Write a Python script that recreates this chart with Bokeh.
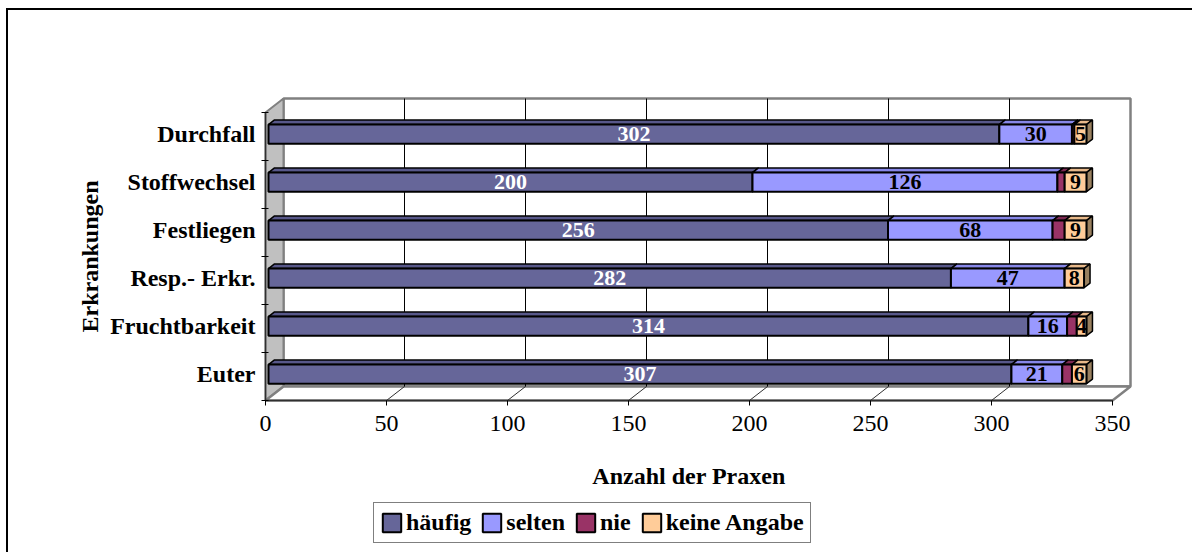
import math
from bokeh.plotting import figure
from bokeh.models import (Range1d, FixedTicker, Legend, LegendItem, Label,
                          LinearAxis, ColumnDataSource)
from bokeh.core.properties import value
from bokeh.embed import file_html
from bokeh.resources import INLINE

# ---- data -------------------------------------------------------------
categories = ["Euter", "Fruchtbarkeit", "Resp.- Erkr.", "Festliegen",
              "Stoffwechsel", "Durchfall"]
series = ["häufig", "selten", "nie", "keine Angabe"]
haeufig = [307, 314, 282, 256, 200, 302]
selten = [21, 16, 47, 68, 126, 30]
nie = [4, 4, 0, 5, 3, 1]
keine_angabe = [6, 4, 8, 9, 9, 5]
x_ticks = [0, 50, 100, 150, 200, 250, 300, 350]

# ---- styling ----------------------------------------------------------
colors = ["#666699", "#9999FF", "#993366", "#FFCC99"]
top_colors = ["#58588a", "#8787e8", "#7d2a52", "#e8b98a"]
end_color = "#99805f"
label_colors = ["white", "black", None, "black"]
FONT = "Liberation Serif"

# the chart sits inside a framed box offset from the page corner
OFF_L, OFF_T = 8, 10
W, H = 1192 - OFF_L, 552 - OFF_T
ORIGIN_X = 257              # px from the box's left edge to x = 0
FRONT_BOTTOM = 390          # px from the box's top edge to the floor front

X_MAX = x_ticks[-1]
KX = 2.42          # px per x unit
KY = 48.0          # px per category
DX = 18 / KX       # depth of the 3-D box, in data units
DY = 14 / KY
FX, FY = DX / 6, DY / 6     # bar front face sits slightly inside the box
BDX, BDY = DX / 3, DY / 3   # bar depth
HALF = 0.2                  # half bar thickness

n = len(categories)
YB = -0.5 - FY
YT = n - 0.5 - FY

x_start = -ORIGIN_X / KX
x_end = x_start + W / KX
y_end = YB + FRONT_BOTTOM / KY
y_start = y_end - H / KY

p = figure(width=W, height=H, output_backend="svg", toolbar_location=None,
           x_range=Range1d(x_start, x_end), y_range=Range1d(y_start, y_end),
           x_axis_location=None, y_axis_location=None,
           min_border=0,
           background_fill_color="white", border_fill_color="white",
           margin=(OFF_T, 0, 0, OFF_L),
           styles={"outline": "2px solid black"})
p.outline_line_color = None
p.grid.visible = False

GRAY = "#808080"

# back wall
p.quad(left=[DX], right=[X_MAX + DX], bottom=[YB + DY], top=[YT + DY],
       fill_color="white", line_color=GRAY, line_width=2.5)
# left wall
p.patch([0, 0, DX, DX], [YB, YT, YT + DY, YB + DY],
        fill_color="#c0c0c0", line_color=GRAY, line_width=2)
# floor
p.patch([0, X_MAX, X_MAX + DX, DX], [YB, YB, YB + DY, YB + DY],
        fill_color="white", line_color=GRAY, line_width=2.5)

# gridlines on the back wall and floor
inner = x_ticks[1:-1]
p.segment(x0=[t + DX for t in inner], y0=[YB + DY] * len(inner),
          x1=[t + DX for t in inner], y1=[YT + DY] * len(inner),
          line_color="black", line_width=1)
p.segment(x0=inner, y0=[YB] * len(inner),
          x1=[t + DX for t in inner], y1=[YB + DY] * len(inner),
          line_color="#303030", line_width=1)

# front edges of the box
p.segment(x0=[0, 0], y0=[YB, YB], x1=[X_MAX, 0], y1=[YB, YT],
          line_color="#303030", line_width=1.5)

# ---- stacked 3-D bars -------------------------------------------------
values = [haeufig, selten, nie, keine_angabe]
lefts = []
cum = [0] * n
for vals in values:
    lefts.append(list(cum))
    cum = [c + v for c, v in zip(cum, vals)]
totals = cum

# top faces
for k, vals in enumerate(values):
    xs, ys = [], []
    for i in range(n):
        l = lefts[k][i] + FX
        r = l + vals[i]
        t = i + HALF
        xs.append([l, r, r + BDX, l + BDX])
        ys.append([t, t, t + BDY, t + BDY])
    p.patches(xs, ys, fill_color=top_colors[k], line_color="black",
              line_width=1.5)

# end faces
ex, ey = [], []
for i in range(n):
    r = totals[i] + FX
    ex.append([r, r, r + BDX, r + BDX])
    ey.append([i - HALF, i + HALF, i + HALF + BDY, i - HALF + BDY])
p.patches(ex, ey, fill_color=end_color, line_color="black", line_width=1.5)

# front faces
front = []
for k, vals in enumerate(values):
    src = ColumnDataSource(dict(
        left=[lefts[k][i] + FX for i in range(n)],
        right=[lefts[k][i] + vals[i] + FX for i in range(n)],
        bottom=[i - HALF for i in range(n)],
        top=[i + HALF for i in range(n)]))
    r = p.quad(left="left", right="right", bottom="bottom", top="top",
               source=src, fill_color=colors[k], line_color="black",
               line_width=2)
    front.append(r)

# value labels
for k, vals in enumerate(values):
    if label_colors[k] is None:
        continue
    src = ColumnDataSource(dict(
        x=[lefts[k][i] + vals[i] / 2 + FX for i in range(n)],
        y=list(range(n)),
        t=[str(v) for v in vals]))
    p.text(x="x", y="y", text="t", source=src, text_align="center",
           text_baseline="middle", text_color=label_colors[k],
           text_font=value(FONT), text_font_style="bold",
           text_font_size="22px")

# ---- axes -------------------------------------------------------------
# value axis pinned to the front edge of the floor
xa = LinearAxis(fixed_location=YB, ticker=FixedTicker(ticks=x_ticks))
xa.axis_line_color = None
xa.major_tick_out = 5
xa.major_tick_in = 0
xa.major_tick_line_color = "black"
xa.minor_tick_line_color = None
xa.major_label_text_font = FONT
xa.major_label_text_font_size = "24px"
xa.major_label_text_color = "black"
xa.major_label_standoff = 10
p.add_layout(xa, "below")

# category axis pinned to the front left edge of the box
ya = LinearAxis(fixed_location=0,
                ticker=FixedTicker(ticks=list(range(n)),
                                   minor_ticks=[YB + k for k in range(n + 1)]))
ya.major_label_overrides = {i: c for i, c in enumerate(categories)}
ya.axis_line_color = None
ya.major_tick_line_color = None
ya.major_tick_out = 0
ya.major_tick_in = 0
ya.minor_tick_out = 4
ya.minor_tick_in = 3
ya.minor_tick_line_color = "black"
ya.major_label_text_font = FONT
ya.major_label_text_font_style = "bold"
ya.major_label_text_font_size = "24px"
ya.major_label_text_color = "black"
ya.major_label_standoff = 6
p.add_layout(ya, "left")

# axis titles
title_style = dict(text_font=FONT, text_font_style="bold",
                   text_font_size="24px", text_color="black",
                   text_align="center", text_baseline="middle")
p.add_layout(Label(x=81, y=(YB + YT) / 2, x_units="screen", y_units="data",
                   angle=math.pi / 2, text="Erkrankungen", **title_style))
p.add_layout(Label(x=X_MAX / 2, y=H - 465, x_units="data", y_units="screen",
                   text="Anzahl der Praxen", **title_style))

# ---- legend -----------------------------------------------------------
legend = Legend(items=[LegendItem(label=s, renderers=[r])
                       for s, r in zip(series, front)],
                orientation="horizontal", location=(365, 9),
                border_line_color="black", border_line_width=1.5,
                padding=6, spacing=9, label_standoff=3,
                glyph_width=23, glyph_height=23, label_height=24,
                margin=0, background_fill_color="white",
                background_fill_alpha=1)
legend.label_text_font = FONT
legend.label_text_font_style = "bold"
legend.label_text_font_size = "24px"
legend.label_text_color = "black"
p.add_layout(legend)

open("out.html", "w").write(file_html(p, INLINE))
